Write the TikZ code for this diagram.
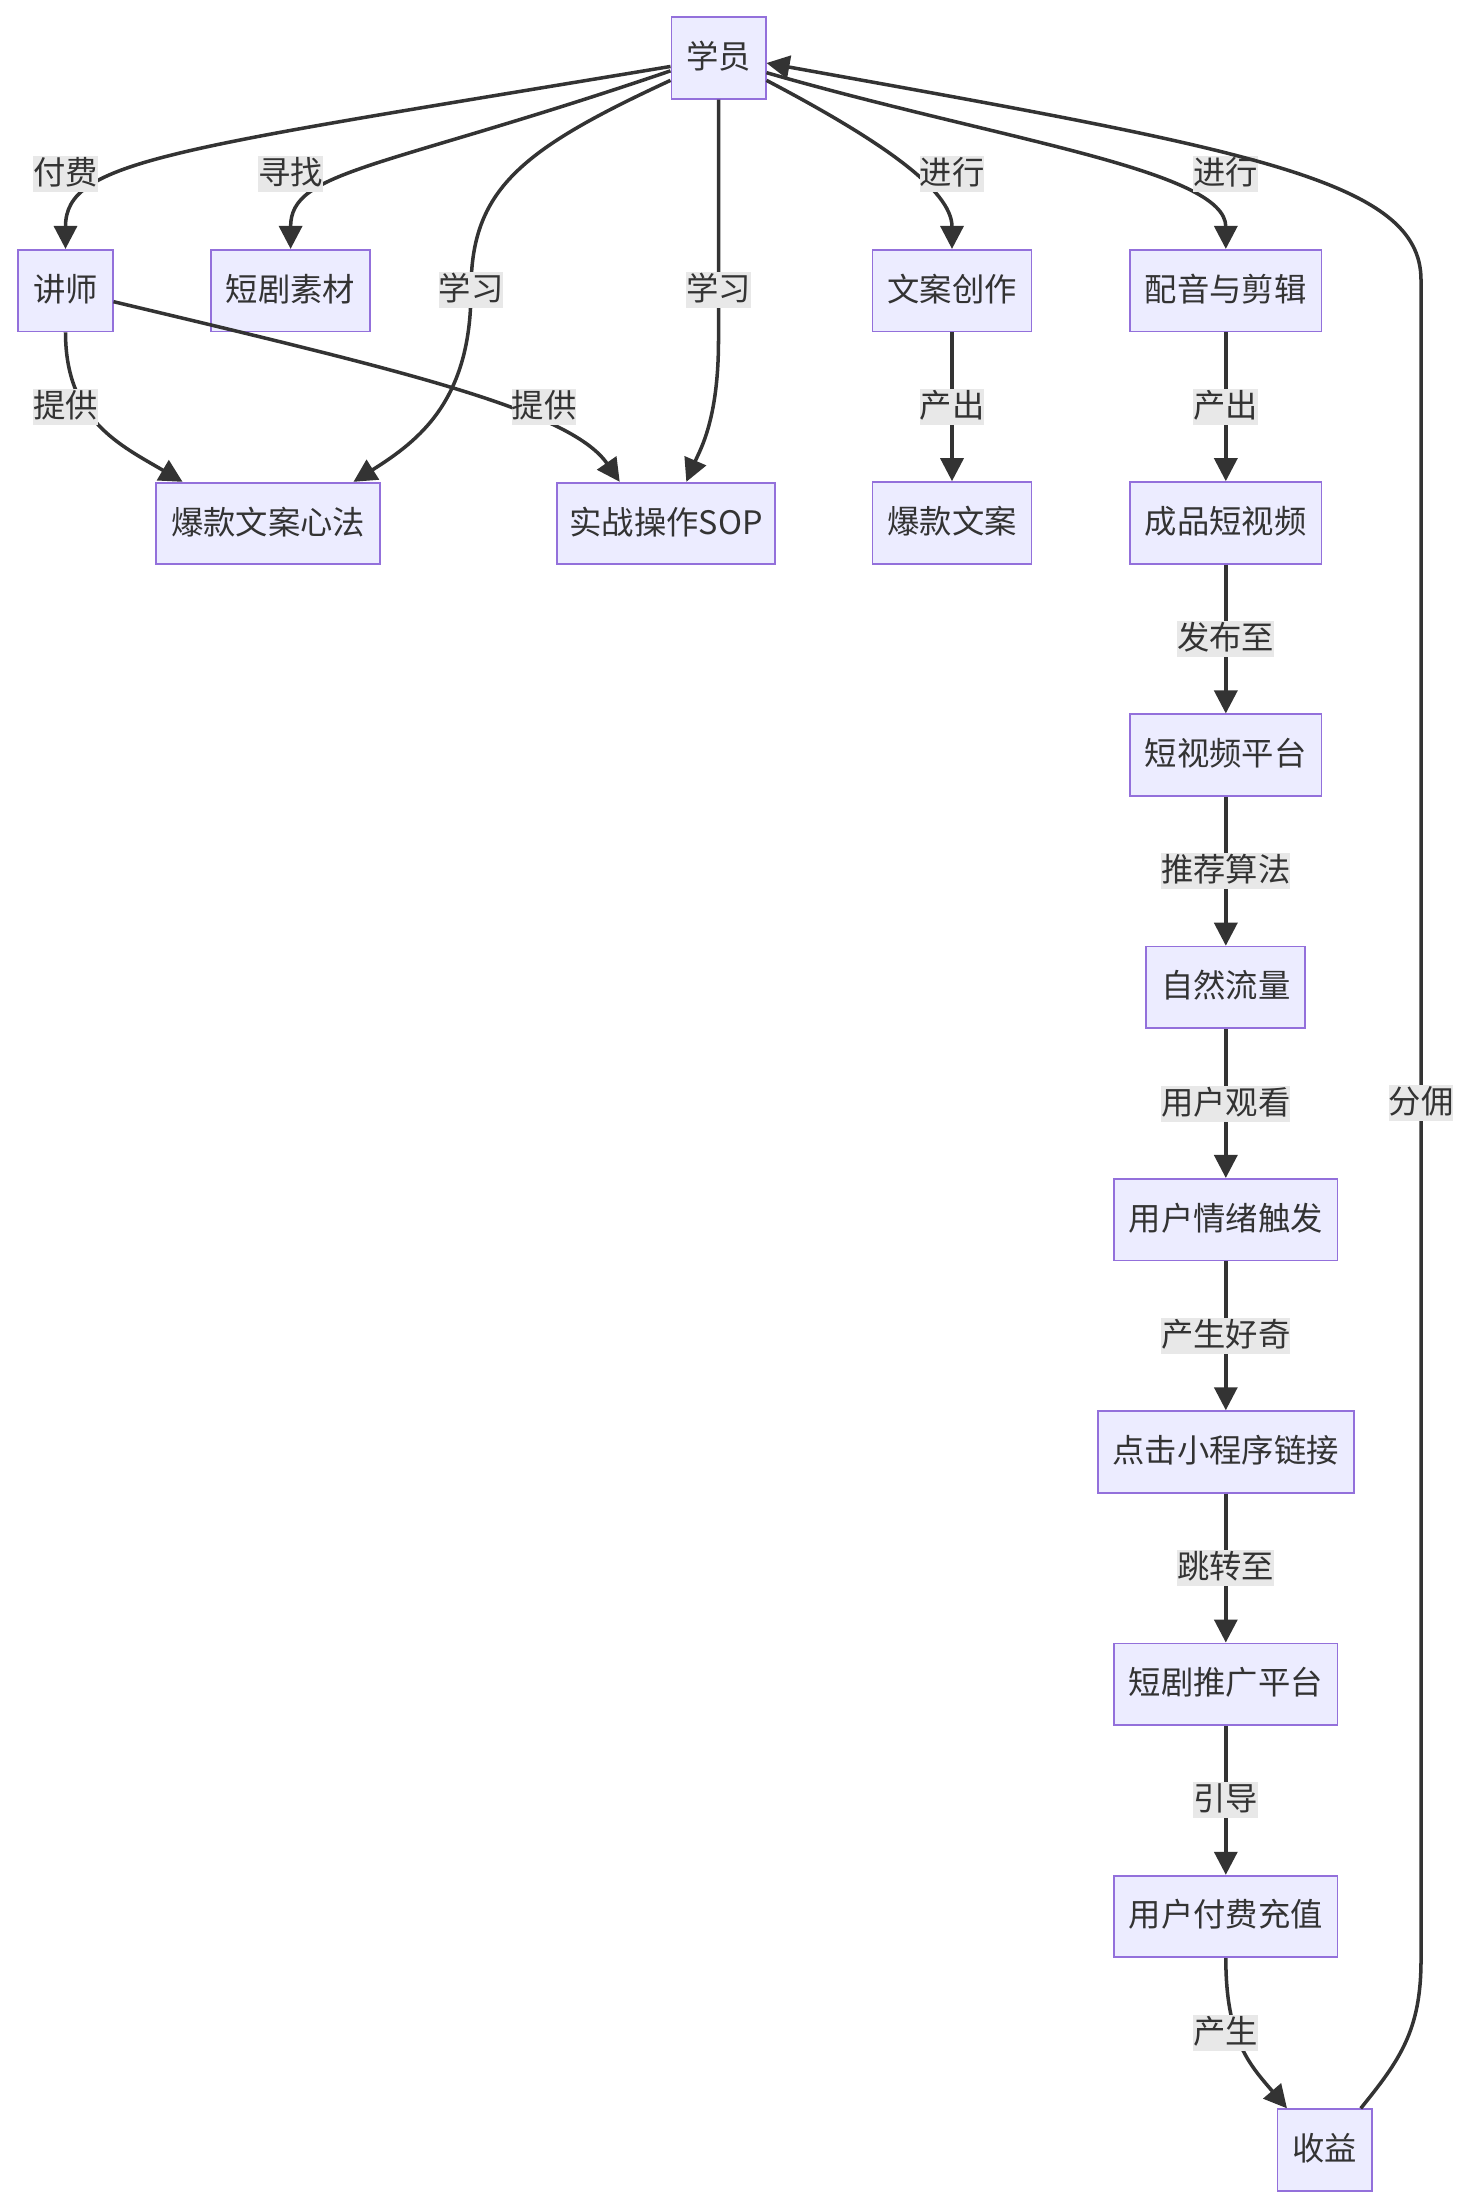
\documentclass[tikz,border=0pt]{standalone}
\usepackage{fontspec}
\setmainfont{Noto Sans CJK SC}
\usetikzlibrary{arrows.meta,positioning}
\definecolor{NodeFill}{HTML}{ECECFF}
\definecolor{NodeLine}{HTML}{9370DB}
\definecolor{Ink}{HTML}{333333}
\definecolor{LabelBg}{HTML}{E8E8E8}

\begin{document}
\begin{tikzpicture}[
    x=0.02cm, y=-0.02cm,
    box/.style={draw=NodeLine, fill=NodeFill, line width=1pt, text=Ink,
                minimum height=1.632cm, inner xsep=0.296cm, inner ysep=0pt,
                font=\fontsize{18.4}{22}\selectfont, text height=15.5pt, text depth=3.5pt},
    lbl/.style={fill=LabelBg, text=Ink, inner sep=0pt, minimum height=0.72cm,
                font=\fontsize{18.4}{22}\selectfont, text height=15.5pt, text depth=3.5pt},
    arrowline/.style={draw=Ink, line width=2pt, -{Triangle[length=0.46cm,width=0.46cm]}},
    node distance=2.979cm
  ]
    \useasboundingbox (0,0) rectangle (1472,2206);

    % top part
    \node[box] (xy)  at (718.5,58)    {学员};
    \node[box] (js)  at (65.5,290.6)  {讲师};
    \node[box] (sc)  at (290.6,290.6) {短剧素材};
    \node[box] (wc)  at (952,290.6)   {文案创作};
    \node[box] (pj)  at (1225.8,290.6) {配音与剪辑};
    \node[box] (xf)  at (268,523.5)   {爆款文案心法};
    \node[box, inner xsep=0.25cm] (sop) at (666,523.5) {实战操作SOP};
    \node[box, below=of wc] (bw) {爆款文案};

    % right column
    \node[box, below=of pj] (cp) {成品短视频};
    \node[box, below=of cp] (pt) {短视频平台};
    \node[box, below=of pt] (zl) {自然流量};
    \node[box, below=of zl] (qx) {用户情绪触发};
    \node[box, below=of qx] (dj) {点击小程序链接};
    \node[box, below=of dj] (tg) {短剧推广平台};
    \node[box, below=of tg] (cz) {用户付费充值};
    \node[box] (sy) at (1324.5,2150) {收益};

    \draw[arrowline] (xy.190) .. controls (170,150) and (65.5,160) .. (js.north)
        node[lbl] at (65.5,174) {付费};
    \draw[arrowline] (xy.195) .. controls (380,170) and (290.6,170) .. (sc.north)
        node[lbl] at (290.6,174) {寻找};
    \draw[arrowline] (xy.205) .. controls (520,150) and (471,190) .. (471,290)
        .. controls (471,400) and (420,440) .. (xf.26)
        node[lbl] at (471,290) {学习};
    \draw[arrowline] (xy.south) -- (718.5,340) .. controls (718.5,420) and (700,450) .. (sop.64)
        node[lbl] at (718.5,290) {学习};
    \draw[arrowline] (xy.335) .. controls (880,140) and (952,190) .. (wc.north)
        node[lbl] at (952,174) {进行};
    \draw[arrowline] (xy.343) .. controls (1000,140) and (1225.8,170) .. (pj.north)
        node[lbl] at (1225.8,174) {进行};
    \draw[arrowline] (js.south) .. controls (65.5,420) and (120,445) .. (xf.154)
        node[lbl] at (65.5,407) {提供};
    \draw[arrowline] (js.347) .. controls (400,370) and (570,410) .. (sop.138)
        node[lbl] at (544,407) {提供};
    \draw[arrowline] (wc) -- node[lbl] {产出} (bw);

    \draw[arrowline] (pj) -- node[lbl] {产出} (cp);
    \draw[arrowline] (cp) -- node[lbl] {发布至} (pt);
    \draw[arrowline] (pt) -- node[lbl] {推荐算法} (zl);
    \draw[arrowline] (zl) -- node[lbl] {用户观看} (qx);
    \draw[arrowline] (qx) -- node[lbl] {产生好奇} (dj);
    \draw[arrowline] (dj) -- node[lbl] {跳转至} (tg);
    \draw[arrowline] (tg) -- node[lbl] {引导} (cz);
    \draw[arrowline] (cz.south) .. controls (1225.8,2040) and (1250,2065) .. (sy.132)
        node[lbl] at (1225.8,2033) {产生};

    % commission back to the student
    \draw[arrowline] (sy.49) .. controls (1400,2060) and (1421,2030) .. (1421,1960)
        -- (1421,280) .. controls (1421,180) and (1250,150) .. (xy.354)
        node[lbl] at (1421,1103) {分佣};
  \end{tikzpicture}
\end{document}
